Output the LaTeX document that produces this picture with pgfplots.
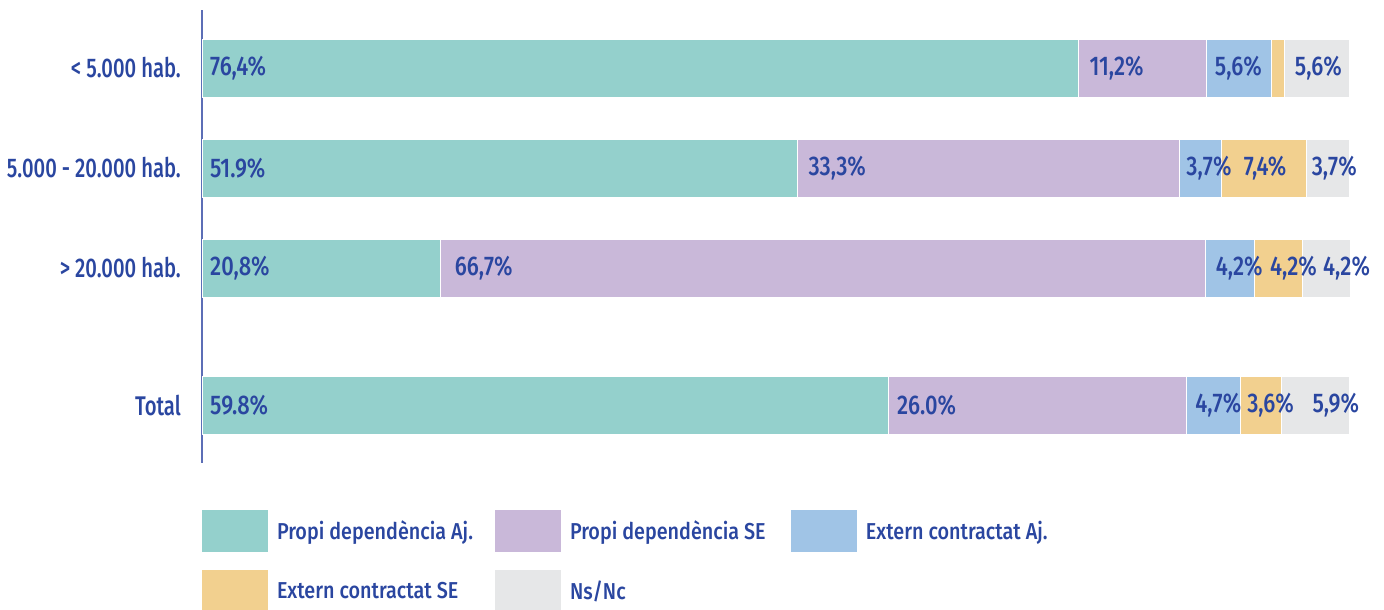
\documentclass[border=0pt]{standalone}
\usepackage{fontspec}
\setmainfont{Fira Sans Medium}[FakeStretch=0.75]
\newfontfamily\valfont{Fira Sans Medium}[FakeStretch=0.81]
\newfontfamily\legfont{Fira Sans Medium}[FakeStretch=0.86]
\usepackage{pgfplots}
\pgfplotsset{compat=1.18}
\usepackage{pgfplotstable}
\definecolor{cA}{RGB}{148,208,204}
\definecolor{cB}{RGB}{201,184,217}
\definecolor{cC}{RGB}{160,196,230}
\definecolor{cD}{RGB}{242,208,143}
\definecolor{cE}{RGB}{230,231,232}
\definecolor{textblue}{RGB}{42,70,160}
\definecolor{axisblue}{RGB}{92,110,182}

% y: bar position; a..e: shares (%); la..le: printed labels; oa..oe: label inset (pt)
\pgfplotstableread{
y a b c d e la lb lc ld le oa ob oc od oe
0 76.4 11.2 5.6 1.2 5.6 {76,4\%} {11,2\%} {5,6\%} {} {5,6\%} 8 11 8 8 10
1 51.9 33.3 3.7 7.4 3.7 {51.9\%} {33,3\%} {3,7\%} {7,4\%} {3,7\%} 8 11 7 22 5
2 20.8 66.7 4.2 4.2 4.2 {20,8\%} {66,7\%} {4,2\%} {4,2\%} {4,2\%} 8 14 10 16 21
3.37 59.8 26.0 4.7 3.6 5.9 {59.8\%} {26.0\%} {4,7\%} {3,6\%} {5,9\%} 8 9 9 7 31
}\data

\pgfplotsset{
  common/.style={
    at={(202pt,-10pt)}, anchor=north west,
    x=11.47pt, y=100pt,
    xmin=0, xmax=100, ymin=-0.58, ymax=3.95,
    y dir=reverse, clip=false,
  },
  seg/.style={fill=#1, draw=white, line width=0.6pt},
  lab/.style={only marks, mark=text, text mark={},
    visualization depends on={\thisrow{#1} \as \off}},
}

\begin{document}
\begin{tikzpicture}
\path[use as bounding box] (0pt,0pt) rectangle (1384pt,-610pt);
\begin{axis}[
  common,
  xbar stacked, bar width=58pt,
  axis x line=none, axis y line=left,
  axis line style={-, draw=axisblue, line width=1.5pt},
  ytick={0,1,2,3.37},
  yticklabels={{< 5.000 hab.},{5.000 - 20.000 hab.},{> 20.000 hab.},{Total}},
  major tick length=0pt,
  yticklabel style={font=\fontsize{27}{30}\selectfont, text=textblue, inner sep=0pt, xshift=-21pt},
  legend columns=3,
  legend cell align=left,
  legend image code/.code={\fill[#1,draw=none] (0pt,-21pt) rectangle (66pt,21pt);},
  legend style={at={(0,-0.1038)}, anchor=north west, draw=none, inner sep=0pt, outer sep=0pt,
    row sep=18pt, font=\legfont\fontsize{23}{26}\selectfont, text=textblue,
    nodes={inner sep=0pt},
    /tikz/every odd column/.append style={column sep=9pt},
    /tikz/every even column/.append style={column sep=11pt}},
]
\addplot[seg=cA] table[x=a,y=y] {\data};
\addlegendentry{\makebox[207pt][l]{Propi dependència Aj.}}
\addplot[seg=cB] table[x=b,y=y] {\data};
\addlegendentry{\makebox[210pt][l]{Propi dependència SE}}
\addplot[seg=cC] table[x=c,y=y] {\data};
\addlegendentry{\makebox[207pt][l]{Extern contractat Aj.}}
\addplot[seg=cD] table[x=d,y=y] {\data};
\addlegendentry{\makebox[207pt][l]{Extern contractat SE}}
\addplot[seg=cE] table[x=e,y=y] {\data};
\addlegendentry{\makebox[210pt][l]{Ns/Nc}}
\end{axis}
% labels: each at the left edge of its segment (stacked starts)
\begin{axis}[
  common, hide axis,
  stack plots=x,
  point meta=explicit symbolic,
  nodes near coords,
  every node near coord/.append style={anchor=west, xshift=\off pt, font=\valfont\fontsize{27}{30}\selectfont, text=textblue, inner sep=0pt},
]
\addplot[lab=oa] table[x expr=0,y=y,meta=la] {\data};
\addplot[lab=ob] table[x=a,y=y,meta=lb] {\data};
\addplot[lab=oc] table[x=b,y=y,meta=lc] {\data};
\addplot[lab=od] table[x=c,y=y,meta=ld] {\data};
\addplot[lab=oe] table[x=d,y=y,meta=le] {\data};
\end{axis}
\end{tikzpicture}
\end{document}
